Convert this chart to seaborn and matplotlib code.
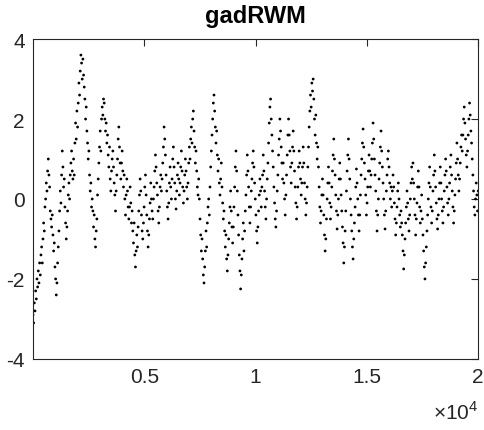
import numpy as np
import matplotlib
matplotlib.use("Agg")
import matplotlib.pyplot as plt
import seaborn as sns

# trace values, segment by segment (left to right)
trace = [
    -2.9, -3.1, -2.6, -2.8, -2.3, -2.5, -2.0, -2.2, -1.8, -2.1, -1.6, -1.9, -1.4, -1.2, -1.6,
    -1.0, -0.6, -0.8, -0.2, 0.0, 0.4, 0.2, 0.7, 1.0, 0.6, 0.3, -0.3, -0.5, -0.7, -0.4,
    -0.9, -1.3, -1.1, -1.7, -2.0, -2.4, -2.1, -1.6, -1.2, -0.8, -0.3, 0.2, -0.1, 0.6, 1.2,
    0.8, 0.3, 0.5, -0.2, -0.6, -1.0, -0.7, -0.3, 0.1, 0.4, 0.0, 0.6, 0.9, 1.2, 0.7,
    0.5, 1.0, 0.6, 1.4, 1.9, 1.5, 2.2, 1.8, 2.4, 2.9, 2.6, 3.2, 3.6, 3.4, 3.0,
    3.5, 3.1, 2.8, 2.5, 2.0, 2.3, 1.7, 1.4, 1.0, 1.2, 0.6, 0.2, 0.4, -0.2, 0.0,
    -0.3, -0.7, -0.4, -1.0, -1.2, -0.8, -0.5, 0.1, 0.5, 0.9, 1.3, 1.7, 1.2, 2.0, 2.3,
    2.1, 2.5, 2.4, 2.0, 1.7, 1.9, 1.4, 1.6, 1.1, 0.8, 1.3, 0.5, 0.2, 0.7, 1.0,
    1.2, 0.8, 0.4, 0.1, -0.3, 0.2, 0.6, 1.0, 1.5, 1.8, 1.3, 0.9, 0.5, 0.9, 1.2,
    0.7, 0.3, 0.6, 0.0, -0.4, 0.1, 0.5, 0.2, -0.2, -0.5, -0.2, 0.3, -0.1, -0.6, -0.3,
    -0.8, -1.1, -0.6, -1.4, -1.7, -1.3, -0.9, -1.2, -0.7, -0.3, 0.1, 0.5, 0.2, -0.4, -0.8,
    -1.0, -0.6, -0.2, 0.3, 0.6, 0.1, -0.4, -0.8, -1.2, -0.9, -0.5, -0.1, 0.4, 0.0, -0.3,
    -0.5, 0.0, 0.3, 0.7, 1.1, 0.8, 0.4, 0.1, -0.3, -0.6, -0.2, 0.3, 0.6, 0.2, 0.5,
    0.9, 1.3, 1.8, 1.5, 1.1, 0.6, 0.2, -0.2, -0.5, -0.1, 0.4, 0.8, 0.3, 0.0, 0.5,
    1.0, 1.3, 0.8, 0.4, 0.0, -0.25, 0.2, 0.6, 0.9, 0.5, 0.1, 0.4, 0.8, 1.2, 0.7,
    0.3, -0.1, 0.2, 0.6, 1.0, 0.7, 0.3, 0.0, 0.4, 0.9, 1.3, 1.0, 1.5, 1.8, 1.4,
    2.0, 2.2, 1.7, 1.3, 0.9, 1.2, 0.7, 0.3, 0.1, 0.5, 0.0, -0.5, -0.9, -1.3, -1.0,
    -1.5, -1.9, -2.1, -1.7, -1.3, -0.8, -1.2, -0.6, -0.2, 0.0, -0.4, 0.3, 0.8, 1.2, 1.6,
    2.0, 2.4, 2.6, 2.2, 1.8, 1.4, 1.7, 1.1, 0.7, 1.0, 0.4, 0.1, 0.5, 0.9, 0.3,
    -0.1, -0.5, -0.3, -0.8, -1.2, -0.9, -1.5, -1.8, -1.4, -1.0, -0.6, -0.2, 0.2, -0.3, -0.7,
    -1.1, -0.7, -0.2, 0.3, 0.8, 1.2, 0.7, 0.2, -0.4, -0.9, -1.4, -1.8, -2.25, -1.9, -1.5,
    -1.0, -0.6, -1.3, -0.8, -0.3, 0.1, 0.6, 1.1, 0.7, 0.3, -0.2, -0.6, -0.2, 0.2, 0.5,
    0.9, 1.2, 0.8, 0.4, 0.0, -0.4, -0.8, -1.1, -0.7, -0.3, 0.1, 0.5, 0.2, -0.2, 0.3,
    0.6, 1.1, 0.7, 0.2, -0.2, -0.5, 0.0, 0.5, 0.9, 1.4, 1.9, 2.3, 2.5, 2.0, 1.6,
    1.2, 0.8, 0.3, -0.1, -0.5, -0.7, -0.3, 0.2, 0.6, 1.1, 1.5, 2.0, 1.7, 1.3, 0.9,
    0.5, 0.9, 0.4, 0.0, -0.4, 0.1, 0.6, 1.1, 1.6, 2.0, 1.6, 1.2, 0.8, 0.4, 0.9,
    1.3, 1.7, 1.2, 0.7, 0.3, -0.1, -0.5, -0.2, 0.3, 0.8, 1.2, 0.9, 0.5, 0.1, 0.4,
    0.8, 1.3, 0.9, 0.4, 0.0, -0.4, -0.1, 0.3, 0.8, 1.3, 1.8, 2.2, 2.6, 2.3, 2.9,
    2.7, 3.0, 2.5, 2.0, 1.6, 2.1, 1.4, 1.0, 1.3, 0.8, 0.3, -0.2, -0.6, -0.3, 0.1,
    0.5, 0.1, -0.4, -0.9, -1.3, -1.0, -0.5, 0.0, 0.4, 0.8, 0.4, -0.1, -0.5, -0.2, 0.3,
    0.7, 1.1, 1.5, 1.0, 0.6, 0.1, -0.3, -0.75, -0.4, 0.0, 0.5, 0.9, 0.5, 0.1, -0.3,
    -0.7, -1.1, -1.6, -1.2, -0.8, -0.3, 0.2, 0.7, 1.1, 1.5, 1.0, 0.5, 0.0, -0.4, -0.8,
    -1.2, -1.5, -1.0, -0.6, -0.2, 0.3, 0.75, 0.4, 0.0, -0.4, -0.8, -0.4, 0.1, 0.6, 1.0,
    1.4, 1.75, 1.3, 0.9, 0.5, 0.1, -0.4, -0.1, 0.3, 0.7, 1.1, 0.7, 0.3, 0.6, 1.0,
    1.4, 1.9, 1.5, 1.0, 0.6, 0.2, -0.3, -0.8, -0.4, 0.0, 0.5, 0.9, 1.3, 1.7, 1.2,
    0.8, 0.4, 0.0, -0.4, -0.75, -0.3, 0.2, 0.6, 1.0, 1.2, 0.8, 0.4, 0.0, 0.3, -0.2,
    0.2, 0.6, 0.3, -0.1, -0.5, -0.9, -0.6, -0.2, 0.2, 0.4, 0.0, -0.4, -0.7, -0.3, -0.6,
    -0.9, -1.3, -1.75, -1.4, -1.0, -0.6, -0.2, 0.2, -0.1, -0.5, -0.8, -0.4, 0.0, 0.4, 0.8,
    0.5, 0.9, 0.4, 0.0, -0.4, -0.9, -0.5, -0.1, 0.3, 0.7, 0.3, -0.2, -0.6, -0.3, 0.1,
    -0.5, -0.9, -1.3, -1.7, -2.0, -1.6, -1.2, -0.8, -0.4, 0.0, 0.4, 0.8, 0.3, -0.2, -0.6,
    -0.3, 0.2, 0.6, 1.1, 0.7, 0.3, -0.1, -0.5, -0.75, -0.4, 0.0, 0.4, 0.8, 0.4, 0.0,
    -0.3, -0.6, -0.2, 0.2, 0.6, 1.0, 0.7, 0.3, -0.1, -0.4, 0.0, 0.4, 0.8, 1.1, 0.6,
    0.2, -0.2, -0.6, -0.3, 0.1, 0.5, 0.9, 1.4, 1.0, 0.6, 0.2, 0.5, 0.9, 1.3, 1.6,
    1.2, 1.6, 2.0, 2.3, 1.9, 1.5, 1.1, 0.8, 1.2, 1.6, 2.0, 2.4, 2.1, 1.7, 1.4,
    1.0, 0.6, 0.2, -0.2, -0.4, 0.0, 0.4, 0.1, -0.3, 0.2,
]
n_iter = 20000
title = "gadRWM"
xticks = [5000, 10000, 15000, 20000]
xtick_labels = ["0.5", "1", "1.5", "2"]
yticks = [-4, -2, 0, 2, 4]

iteration = np.linspace(0, n_iter, len(trace))

sns.set_style("white")
plt.rcParams["font.family"] = ["Liberation Sans", "DejaVu Sans"]
plt.rcParams["axes.unicode_minus"] = False
plt.rcParams["mathtext.fontset"] = "custom"
plt.rcParams["mathtext.rm"] = "Liberation Sans"

fig = plt.figure(figsize=(4.85, 4.31), dpi=100)
ax = fig.add_axes([0.068, 0.165, 0.918, 0.742])

sns.scatterplot(x=iteration, y=trace, ax=ax, s=4, color="black",
                edgecolor="none", linewidth=0, legend=False)

ax.set_xlim(0, n_iter)
ax.set_ylim(-4, 4)
ax.set_xticks(xticks)
ax.set_xticklabels(xtick_labels)
ax.set_yticks(yticks)

frame = "#262626"
for sp in ax.spines.values():
    sp.set_visible(True)
    sp.set_color(frame)
    sp.set_linewidth(0.8)
ax.tick_params(direction="in", length=5, width=0.8, colors=frame,
               labelsize=15, top=True, right=True, pad=6)

ax.set_title(title, fontsize=17, fontweight="bold", pad=12, color="black")
ax.text(1.0, -0.165, r"$\times10^4$", transform=ax.transAxes, ha="right",
        va="center", fontsize=15, color=frame)

fig.savefig("out.png", dpi=100)
